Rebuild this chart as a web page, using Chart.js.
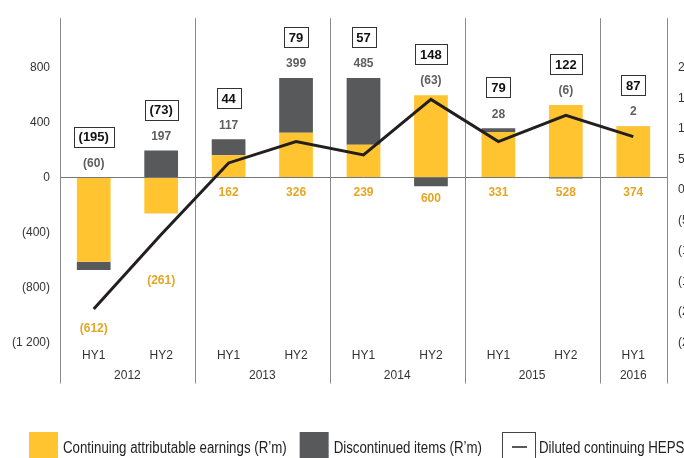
<!DOCTYPE html>
<html>
<head>
<meta charset="utf-8">
<script src="https://cdn.jsdelivr.net/npm/chart.js@4/dist/chart.umd.min.js"></script>
<style>
  html, body { margin: 0; padding: 0; background: #fff; }
  #wrap { position: relative; width: 684px; height: 458px; }
</style>
</head>
<body>
<div id="wrap"><canvas id="c"></canvas></div>
<script>
// Earnings by half-year: stacked bars (R'm, left axis) + HEPS line (cents, right axis)
const periods = ['HY1', 'HY2', 'HY1', 'HY2', 'HY1', 'HY2', 'HY1', 'HY2', 'HY1'];
const periodYears = ['2012', '2012', '2013', '2013', '2014', '2014', '2015', '2015', '2016'];
const continuingEarnings = [-612, -261, 162, 326, 239, 600, 331, 528, 374];
const discontinuedItems = [-60, 197, 117, 399, 485, -63, 28, -6, 2];
const dilutedHeps = [-195, -73, 44, 79, 57, 148, 79, 122, 87];
const leftTicks = [-1200, -800, -400, 0, 400, 800];
const rightTicks = [-250, -200, -150, -100, -50, 0, 50, 100, 150, 200];

const YELLOW = '#FFC430';
const YELLOW_TEXT = '#E5A624';
const DARK = '#58595B';
const FONT = "'Liberation Sans', Arial, sans-serif";

Chart.defaults.font.family = FONT;
Chart.defaults.font.size = 12;
Chart.defaults.color = '#333';

// negative numbers in brackets, space as thousands separator
const fmt = v => {
  const s = String(Math.abs(v)).replace(/\B(?=(\d{3})+(?!\d))/g, ' ');
  return v < 0 ? `(${s})` : s;
};

// year dividers + year captions under the HY labels
const yearGroups = {
  id: 'yearGroups',
  beforeDatasetsDraw(chart) {
    const { ctx, chartArea: a, scales: { x } } = chart;
    const n = periods.length;
    const step = x.width / n;
    const bounds = [0];
    for (let i = 1; i < n; i++) if (periodYears[i] !== periodYears[i - 1]) bounds.push(i);
    bounds.push(n);

    ctx.save();
    ctx.strokeStyle = '#8a8a8a';
    ctx.lineWidth = 1;
    bounds.forEach(i => {
      const px = Math.round(x.left + i * step) + 0.5;
      ctx.beginPath();
      ctx.moveTo(px, a.top);
      ctx.lineTo(px, a.bottom + 41);
      ctx.stroke();
    });
    ctx.fillStyle = '#333';
    ctx.font = `12px ${FONT}`;
    ctx.textAlign = 'center';
    ctx.textBaseline = 'middle';
    for (let b = 0; b < bounds.length - 1; b++) {
      const cx = x.left + (bounds[b] + bounds[b + 1]) / 2 * step;
      ctx.fillText(periodYears[bounds[b]], cx, a.bottom + 33);
    }
    ctx.restore();
  },
};

// value labels: boxed HEPS, grey discontinued, yellow continuing
const valueLabels = {
  id: 'valueLabels',
  afterDatasetsDraw(chart) {
    const { ctx, scales: { x, y } } = chart;
    const zero = y.getPixelForValue(0);
    ctx.save();
    ctx.textAlign = 'center';
    ctx.textBaseline = 'middle';
    periods.forEach((_, i) => {
      const c = continuingEarnings[i], d = discontinuedItems[i];
      const px = x.getPixelForValue(i);
      const pos = Math.max(c, 0) + Math.max(d, 0);
      const neg = Math.min(c, 0) + Math.min(d, 0);
      const yTop = y.getPixelForValue(pos);
      const yBot = y.getPixelForValue(neg);

      // continuing
      ctx.font = `bold 12px ${FONT}`;
      ctx.fillStyle = YELLOW_TEXT;
      const yc = c >= 0 ? Math.max(yBot - 3, zero) + 15 : y.getPixelForValue(c) + 67;
      ctx.fillText(fmt(c), px, yc);

      // discontinued
      const yd = yTop - 14;
      ctx.fillStyle = '#5e5e5e';
      ctx.fillText(fmt(d), px, yd);

      // HEPS in a box
      const yb = yd - 27;
      ctx.font = `bold 13px ${FONT}`;
      const txt = fmt(dilutedHeps[i]);
      const w = Math.round(Math.max(ctx.measureText(txt).width + 10, 22));
      const h = 20;
      ctx.fillStyle = '#fff';
      ctx.strokeStyle = '#333';
      ctx.lineWidth = 1;
      const bx = Math.round(px - w / 2) + 0.5, by = Math.round(yb - h / 2) + 0.5;
      ctx.fillRect(bx, by, w, h);
      ctx.strokeRect(bx, by, w, h);
      ctx.fillStyle = '#111';
      ctx.fillText(txt, px, yb + 1);
    });
    ctx.restore();
  },
};

// legend along the bottom edge (condensed text)
const bottomLegend = {
  id: 'bottomLegend',
  afterDraw(chart) {
    const { ctx } = chart;
    const top = 432, bh = 30, squeeze = 0.83;
    let lx = 29;
    ctx.save();
    ctx.font = `16px ${FONT}`;
    ctx.textBaseline = 'middle';
    chart.data.datasets.forEach(ds => {
      if (ds.type === 'line') {
        lx += 7;
        ctx.fillStyle = '#fff';
        ctx.strokeStyle = '#444';
        ctx.lineWidth = 1;
        ctx.fillRect(lx + 0.5, top + 0.5, 33, bh);
        ctx.strokeRect(lx + 0.5, top + 0.5, 33, bh);
        ctx.strokeStyle = '#222';
        ctx.lineWidth = 1.5;
        ctx.beginPath();
        ctx.moveTo(lx + 10, top + 15);
        ctx.lineTo(lx + 25, top + 15);
        ctx.stroke();
        lx += 37;
      } else {
        ctx.fillStyle = ds.backgroundColor;
        ctx.fillRect(lx, top, 29, bh);
        lx += 34;
      }
      ctx.fillStyle = '#222';
      ctx.save();
      ctx.translate(lx, top + 17);
      ctx.scale(squeeze, 1);
      ctx.fillText(ds.label, 0, 0);
      ctx.restore();
      lx += ctx.measureText(ds.label).width * squeeze + 13;
    });
    ctx.restore();
  },
};

new Chart(document.getElementById('c'), {
  data: {
    labels: periods,
    datasets: [
      {
        type: 'bar',
        label: 'Continuing attributable earnings (R’m)',
        data: continuingEarnings,
        backgroundColor: YELLOW,
        barPercentage: 0.5,
        categoryPercentage: 1,
        order: 1,
      },
      {
        type: 'bar',
        label: 'Discontinued items (R’m)',
        data: discontinuedItems,
        backgroundColor: DARK,
        barPercentage: 0.5,
        categoryPercentage: 1,
        order: 1,
      },
      {
        type: 'line',
        label: 'Diluted continuing HEPS',
        data: dilutedHeps,
        yAxisID: 'y2',
        borderColor: '#231F20',
        borderWidth: 3,
        pointRadius: 0,
        tension: 0,
        order: 0,
      },
    ],
  },
  options: {
    responsive: true,
    maintainAspectRatio: false,
    animation: false,
    layout: { padding: { top: 15, left: 0, right: 0, bottom: 0 } },
    plugins: { legend: { display: false }, tooltip: { enabled: false } },
    scales: {
      x: {
        stacked: true,
        grid: { display: false, drawTicks: false },
        border: { display: false },
        ticks: { padding: 6, color: '#333', autoSkip: false, maxRotation: 0 },
        afterFit: s => { s.height = 115.5; },
      },
      y: {
        stacked: true,
        position: 'left',
        min: -1200,
        max: 1160,
        border: { display: false },
        grid: {
          drawTicks: false,
          color: c => (c.tick && c.tick.value === 0 ? '#777' : 'rgba(0,0,0,0)'),
        },
        ticks: { padding: 10, color: '#333', callback: v => fmt(v) },
        afterBuildTicks: s => { s.ticks = leftTicks.map(v => ({ value: v })); },
        afterFit: s => { s.width = 60; },
      },
      y2: {
        position: 'right',
        min: -250,
        max: 281,
        border: { display: false },
        grid: { display: false, drawTicks: false },
        ticks: { padding: 11, color: '#333', callback: v => fmt(v) },
        afterBuildTicks: s => { s.ticks = rightTicks.map(v => ({ value: v })); },
        afterFit: s => { s.width = 17; },
      },
    },
  },
  plugins: [yearGroups, valueLabels, bottomLegend],
});
</script>
</body>
</html>
